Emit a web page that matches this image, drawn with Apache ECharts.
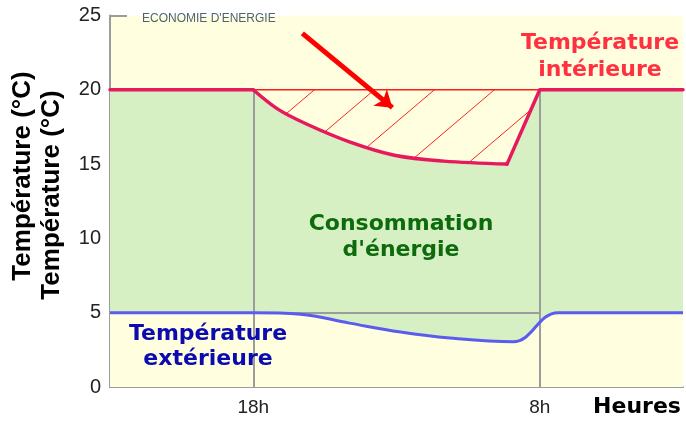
<!DOCTYPE html>
<html>
<head>
<meta charset="utf-8">
<script src="https://cdn.jsdelivr.net/npm/echarts@6/dist/echarts.min.js"></script>
<style>
  html, body { margin: 0; padding: 0; background: #fff; }
  #chart { width: 686px; height: 423px; }
</style>
</head>
<body>
<div id="chart"></div>
<script>
// temperatures (hours: 18h = 18, 8h next morning = 32)
const redHours = [11, 18, 19.2, 20.6, 22.7, 24.9, 27.3, 30.4, 32, 39];
const redTemps = [20, 20, 18.7, 17.7, 16.5, 15.6, 15.2, 15.0, 20, 20];
const blueHours = [11, 18, 20.3, 22.7, 25.2, 27.6, 30.7, 32.9, 39];
const blueTemps = [5, 5, 4.9, 4.3, 3.7, 3.3, 3.05, 5, 5];

// indices in redHours where the cooling curve starts / ends
const coolStart = 1;
const coolEnd = 7;

const nightHours = [18, 32];
const nightLabels = ["18h", "8h"];
const setpoint = 20;
const outsideBase = 5;
const yTicks = [0, 5, 10, 15, 20, 25];
const arrowFrom = [20.4, 23.8];
const arrowTo = [24.8, 18.8];

const gray = "#9c9c9c";
const yellow = "#ffffe0";
const green = "#d6efc3";
const red = "#e6195c";

function hatchPattern() {
  const c = document.createElement("canvas");
  c.width = 60;
  c.height = 51;
  const ctx = c.getContext("2d");
  ctx.strokeStyle = "#ff2222";
  ctx.lineWidth = 1;
  ctx.beginPath();
  ctx.moveTo(0, 51);
  ctx.lineTo(60, 0);
  ctx.stroke();
  return { image: c, repeat: "repeat" };
}

const zip = (xs, ys) => xs.map((x, i) => [x, ys[i]]);
const redPoints = zip(redHours, redTemps);
// day / cooling curve / recovery: only the cooling part is smoothed
const redPieces = [
  { data: redPoints.slice(0, coolStart + 1), smooth: false },
  { data: redPoints.slice(coolStart, coolEnd + 1), smooth: 0.35 },
  { data: redPoints.slice(coolEnd), smooth: false },
];

function redSeries(asArea) {
  return redPieces.map((p) => ({
    type: "line",
    z: asArea ? 2 : 5,
    showSymbol: false,
    smooth: p.smooth,
    data: p.data,
    lineStyle: asArea ? { width: 0 } : { color: red, width: 3.5, cap: "round", join: "round" },
    areaStyle: asArea ? { color: green, opacity: 1 } : undefined,
  }));
}

const chart = echarts.init(document.getElementById("chart"));
const boldText = (text, x, y, color, lh) => ({
  type: "text",
  x, y,
  style: {
    text, fill: color, align: "center", verticalAlign: "middle",
    font: "bold 22px 'DejaVu Sans'", lineHeight: lh,
  },
  z: 20,
});
const axisName = (x, y) => ({
  type: "text",
  x, y,
  rotation: Math.PI / 2,
  style: {
    text: "Température (°C)", fill: "#000", align: "center", verticalAlign: "middle",
    font: "bold 26px 'Liberation Sans'",
  },
});

const lines = redSeries(false);
lines[0].markLine = {
  silent: true,
  symbol: ["none", "arrow"],
  symbolSize: 16,
  label: { show: false },
  lineStyle: { color: "#ff0000", width: 5, type: "solid" },
  data: [[{ coord: arrowFrom }, { coord: arrowTo }]],
};

chart.setOption({
  animation: false,
  title: {
    text: "ECONOMIE D'ENERGIE",
    left: 137,
    top: 8,
    textStyle: { fontSize: 12, fontWeight: "normal", color: "#4d6478", fontFamily: "Liberation Sans" },
  },
  grid: {
    left: 110, right: 3, top: 15.5, bottom: 36,
    show: true, backgroundColor: yellow, borderWidth: 0,
  },
  xAxis: {
    type: "value",
    min: 11,
    max: 39,
    axisLine: { lineStyle: { color: gray, width: 2 } },
    axisTick: { show: false },
    splitLine: { show: false },
    axisLabel: {
      customValues: nightHours,
      formatter: (v) => nightLabels[nightHours.indexOf(v)] || "",
      fontSize: 19, color: "#222", margin: 11, fontFamily: "Liberation Sans",
    },
  },
  yAxis: {
    type: "value",
    min: yTicks[0],
    max: yTicks[yTicks.length - 1],
    interval: 5,
    axisLine: { show: true, lineStyle: { color: gray, width: 2 } },
    axisTick: { show: true, inside: true, length: 17, lineStyle: { color: gray, width: 2 } },
    splitLine: { show: false },
    axisLabel: { fontSize: 20, color: "#222", margin: 9, fontFamily: "Liberation Sans" },
  },
  graphic: [
    axisName(23, 176),
    axisName(52, 195),
    boldText("Température\nintérieure", 600, 57, "#ff3040", 27),
    boldText("Consommation\nd'énergie", 401, 237, "#0d6b0d", 26),
    boldText("Température\nextérieure", 208, 347, "#0b0bb0", 25),
    boldText("Heures", 637, 407, "#000", 22),
  ],
  series: [
    {
      // hatched saving zone under the 20 °C setpoint
      type: "line",
      z: 1,
      showSymbol: false,
      data: zip(nightHours, [setpoint, setpoint]),
      lineStyle: { color: "#ff1a1a", width: 1.5 },
      areaStyle: { color: hatchPattern(), opacity: 1 },
    },
    ...redSeries(true),
    {
      type: "line",
      z: 3,
      showSymbol: false,
      smooth: 0.4,
      data: zip(blueHours, blueTemps),
      lineStyle: { width: 0 },
      areaStyle: { color: yellow, opacity: 1 },
      markLine: {
        silent: true,
        symbol: "none",
        label: { show: false },
        lineStyle: { color: gray, width: 2, type: "solid" },
        data: [
          [{ coord: [nightHours[0], 0] }, { coord: [nightHours[0], setpoint] }],
          [{ coord: [nightHours[1], 0] }, { coord: [nightHours[1], setpoint] }],
          [{ coord: [nightHours[0], outsideBase] }, { coord: [nightHours[1], outsideBase] }],
        ],
      },
    },
    ...lines,
    {
      name: "Température extérieure",
      type: "line",
      z: 5,
      showSymbol: false,
      smooth: 0.4,
      data: zip(blueHours, blueTemps),
      lineStyle: { color: "#5b5bef", width: 3 },
    },
  ],
});
</script>
</body>
</html>
